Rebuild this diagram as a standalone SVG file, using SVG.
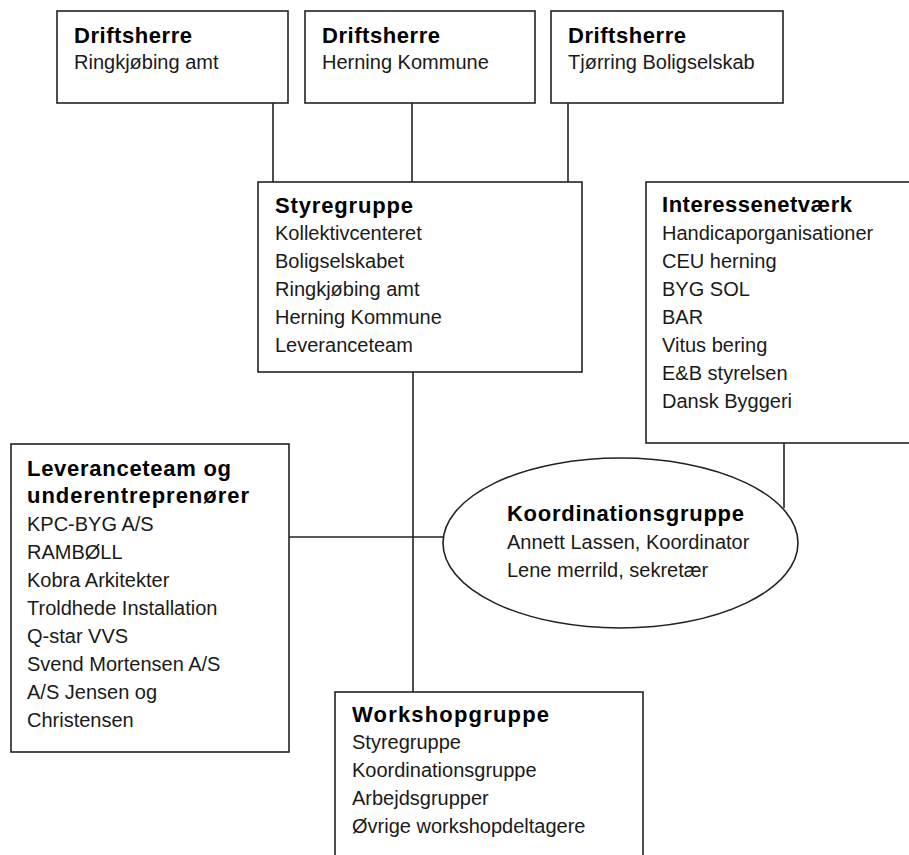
<svg xmlns="http://www.w3.org/2000/svg" width="909" height="855" viewBox="0 0 909 855">
<style>
.box{fill:#fff;stroke:#222;stroke-width:1.6}
.ln{fill:none;stroke:#222;stroke-width:1.6}
.t{font-family:"Liberation Sans",Arial,sans-serif;font-size:20px;fill:#1a1a1a}
.b{font-weight:bold;font-size:22px;fill:#000}
</style>
<rect width="909" height="855" fill="#fff"/>
<g id="connectors">
<path class="ln" d="M273 103V182M412 103V182M568 103V182"/>
<path class="ln" d="M413 372V692"/>
<path class="ln" d="M289 537H444"/>
<path class="ln" d="M784 443V508"/>
</g>
<g id="driftsherre1">
<rect class="box" x="57" y="11" width="231" height="92"/>
<text class="t b" x="74" y="43" textLength="118" lengthAdjust="spacing">Driftsherre</text>
<text class="t" x="74" y="69">Ringkjøbing amt</text>
</g>
<g id="driftsherre2">
<rect class="box" x="305" y="11" width="230" height="92"/>
<text class="t b" x="322" y="43" textLength="118" lengthAdjust="spacing">Driftsherre</text>
<text class="t" x="322" y="69">Herning Kommune</text>
</g>
<g id="driftsherre3">
<rect class="box" x="551" y="11" width="232" height="92"/>
<text class="t b" x="568" y="43" textLength="118" lengthAdjust="spacing">Driftsherre</text>
<text class="t" x="568" y="69">Tjørring Boligselskab</text>
</g>
<g id="styregruppe">
<rect class="box" x="258" y="182" width="324" height="190"/>
<text class="t b" x="275" y="213" textLength="138" lengthAdjust="spacing">Styregruppe</text>
<text class="t" x="275" y="240">Kollektivcenteret</text>
<text class="t" x="275" y="268">Boligselskabet</text>
<text class="t" x="275" y="296">Ringkjøbing amt</text>
<text class="t" x="275" y="324">Herning Kommune</text>
<text class="t" x="275" y="352">Leveranceteam</text>
</g>
<g id="interessenetvaerk">
<rect class="box" x="646" y="182" width="270" height="261"/>
<text class="t b" x="662" y="212" textLength="190" lengthAdjust="spacing">Interessenetværk</text>
<text class="t" x="662" y="240">Handicaporganisationer</text>
<text class="t" x="662" y="268">CEU herning</text>
<text class="t" x="662" y="296">BYG SOL</text>
<text class="t" x="662" y="324">BAR</text>
<text class="t" x="662" y="352">Vitus bering</text>
<text class="t" x="662" y="380">E&amp;B styrelsen</text>
<text class="t" x="662" y="408">Dansk Byggeri</text>
</g>
<g id="leveranceteam">
<rect class="box" x="11" y="444" width="278" height="308"/>
<text class="t b" x="27" y="476" textLength="204" lengthAdjust="spacing">Leveranceteam og</text>
<text class="t b" x="27" y="503" textLength="222" lengthAdjust="spacing">underentreprenører</text>
<text class="t" x="27" y="531">KPC-BYG A/S</text>
<text class="t" x="27" y="559">RAMBØLL</text>
<text class="t" x="27" y="587">Kobra Arkitekter</text>
<text class="t" x="27" y="615">Troldhede Installation</text>
<text class="t" x="27" y="643">Q-star VVS</text>
<text class="t" x="27" y="671">Svend Mortensen A/S</text>
<text class="t" x="27" y="699">A/S Jensen og</text>
<text class="t" x="27" y="727">Christensen</text>
</g>
<g id="koordinationsgruppe">
<ellipse class="box" cx="620.5" cy="543" rx="177.5" ry="85"/>
<text class="t b" x="507" y="521" textLength="237" lengthAdjust="spacing">Koordinationsgruppe</text>
<text class="t" x="507" y="549">Annett Lassen, Koordinator</text>
<text class="t" x="507" y="577">Lene merrild, sekretær</text>
</g>
<g id="workshopgruppe">
<rect class="box" x="335" y="692" width="308" height="180"/>
<text class="t b" x="352" y="722" textLength="197" lengthAdjust="spacing">Workshopgruppe</text>
<text class="t" x="352" y="749">Styregruppe</text>
<text class="t" x="352" y="777">Koordinationsgruppe</text>
<text class="t" x="352" y="805">Arbejdsgrupper</text>
<text class="t" x="352" y="833">Øvrige workshopdeltagere</text>
</g>
</svg>
